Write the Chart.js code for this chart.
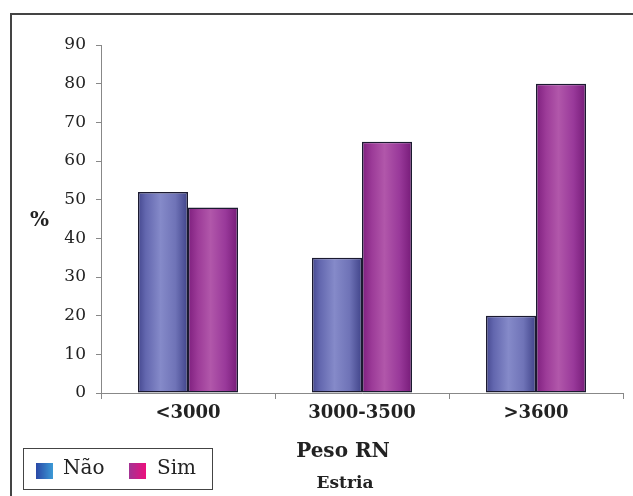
<!DOCTYPE html>
<html><head><meta charset="utf-8">
<script src="https://cdn.jsdelivr.net/npm/chart.js@4"></script>
<style>
html,body{margin:0;padding:0;background:#fff;}
#wrap{position:relative;width:633px;height:496px;overflow:hidden;background:#fff;}
#frame{position:absolute;left:10px;top:13px;width:700px;height:600px;border-left:2px solid #444;border-top:2px solid #444;}
canvas{position:absolute;left:0;top:0;}
.t{position:absolute;font-family:"DejaVu Serif";color:#222;white-space:nowrap;}
#pct{left:30px;top:209px;font-size:20px;line-height:20px;font-weight:bold;}
#xtitle{left:243px;width:200px;text-align:center;top:440px;font-size:20px;line-height:20px;font-weight:bold;}
#sub{left:245px;width:200px;text-align:center;top:474px;font-size:17px;line-height:17px;font-weight:bold;}
#legend{position:absolute;left:23px;top:448px;width:190px;height:42px;box-sizing:border-box;border:1.5px solid #444;background:#fff;}
.sw{position:absolute;top:463px;width:17px;height:16px;}
.lt{top:457px;font-size:20px;line-height:20px;}
</style>
</head><body>
<div id="wrap">
<div id="frame"></div>
<canvas id="c" width="633" height="496"></canvas>
<div class="t" id="pct">%</div>
<div class="t" id="xtitle">Peso RN</div>
<div class="t" id="sub">Estria</div>
<div id="legend"></div>
<div class="sw" style="left:36px;background:linear-gradient(90deg,#2a48a6,#3c9ad6);"></div>
<div class="t lt" style="left:63px;">Não</div>
<div class="sw" style="left:129px;background:linear-gradient(90deg,#a33394,#ec0f7c);"></div>
<div class="t lt" style="left:157px;">Sim</div>
</div>
<script>
const categories = ['<3000', '3000-3500', '>3600'];
const naoValues = [52, 35, 20];
const simValues = [48, 65, 80];
const yTickValues = [0, 10, 20, 30, 40, 50, 60, 70, 80, 90];

const CAT_PCT = 0.575;
const naoStops = [[0,'#45488f'],[0.15,'#6266ae'],[0.45,'#858ac9'],[0.75,'#6f73b7'],[1,'#404389']];
const simStops = [[0,'#7e1f7e'],[0.2,'#9c3b98'],[0.45,'#b157aa'],[0.75,'#99399a'],[1,'#761b78']];

function barGrad(ctx, stops, side){
  const chart = ctx.chart;
  const xs = chart.scales && chart.scales.x;
  if (ctx.type !== 'data' || !xs || !isFinite(xs.width) || xs.width <= 0) return stops[2][1];
  const c = xs.getPixelForValue(ctx.dataIndex);
  const catW = xs.width / categories.length;
  const w = catW * CAT_PCT / 2;
  const x0 = side < 0 ? c - w : c;
  const g = chart.ctx.createLinearGradient(x0, 0, x0 + w, 0);
  stops.forEach(s => g.addColorStop(s[0], s[1]));
  return g;
}

new Chart(document.getElementById('c'), {
  type: 'bar',
  data: {
    labels: categories,
    datasets: [
      { label: 'Não', data: naoValues, backgroundColor: ctx => barGrad(ctx, naoStops, -1),
        borderColor: '#1b1a30', borderWidth: 1.5, borderSkipped: false },
      { label: 'Sim', data: simValues, backgroundColor: ctx => barGrad(ctx, simStops, 1),
        borderColor: '#1b1a30', borderWidth: 1.5, borderSkipped: false }
    ]
  },
  options: {
    responsive: false,
    animation: false,
    events: [],
    layout: { padding: { left: 0, right: 10, top: 45, bottom: 0 } },
    datasets: { bar: { barPercentage: 1, categoryPercentage: CAT_PCT } },
    plugins: {
      legend: { display: false },
      tooltip: { enabled: false }
    },
    scales: {
      x: {
        afterFit: s => { s.height = 103; },
        grid: { display: true, drawOnChartArea: false, drawTicks: true, tickLength: 6, color: '#888', offset: true },
        border: { display: true, color: '#888', width: 1 },
        ticks: { color: '#222', padding: 4, font: { family: 'DejaVu Serif', size: 18, weight: 'bold' } }
      },
      y: {
        min: 0, max: 90,
        afterBuildTicks: s => { s.ticks = yTickValues.map(v => ({ value: v })); },
        afterFit: s => { s.width = 101; },
        grid: { display: true, drawOnChartArea: false, drawTicks: true, tickLength: 5, color: '#888' },
        border: { display: true, color: '#888', width: 1 },
        ticks: { color: '#222', padding: 10, font: { family: 'DejaVu Serif', size: 17 } }
      }
    }
  }
});
</script>
</body></html>
